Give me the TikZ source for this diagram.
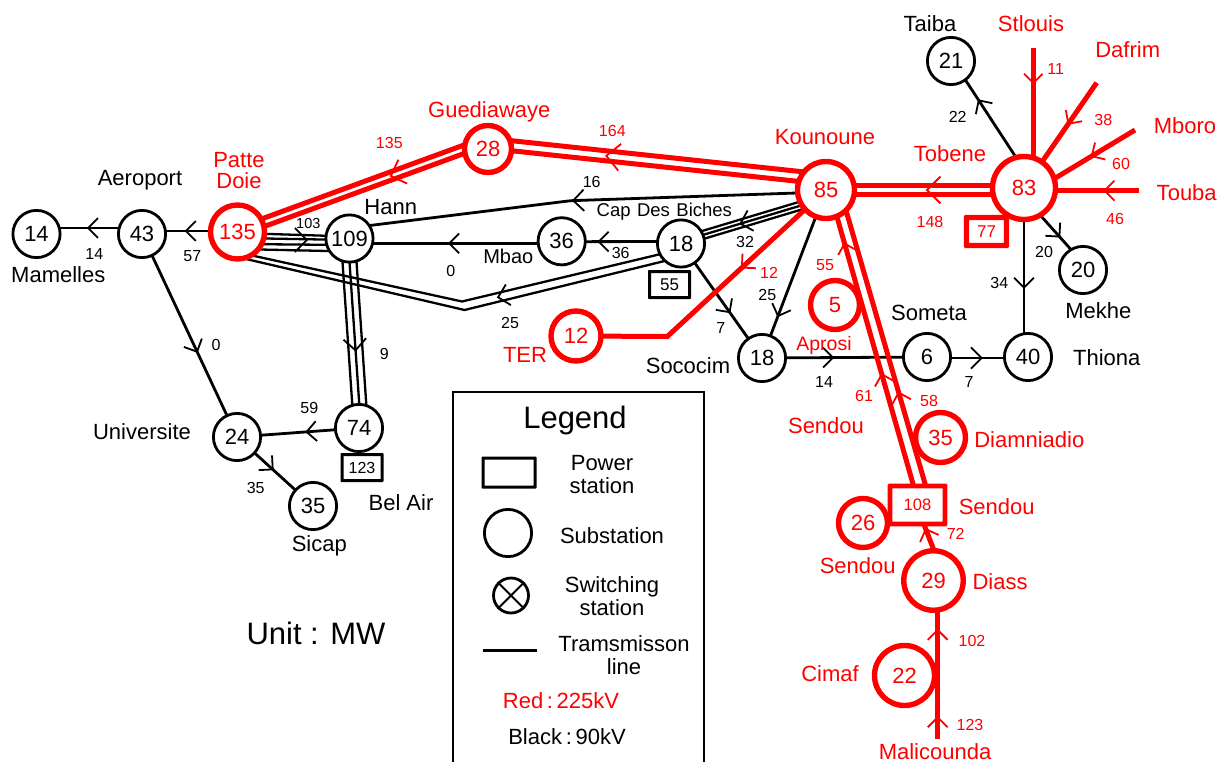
\documentclass[tikz,border=0pt]{standalone}
\usepackage{fontspec}
\setmainfont{Liberation Sans}
\usetikzlibrary{calc,decorations.markings}
\pgfdeclarelayer{bg}
\pgfsetlayers{bg,main}
\newcommand{\fs}[1]{\fontsize{#1}{#1}\selectfont}
% flow arrow: [barb length]{colour}{position}{path}
\newcommand{\flow}[4][14]{\path[decoration={markings,mark=at position #3 with {\draw[#2,line width=1.8pt] (135:#1pt)--(0,0)--(-135:#1pt);}},postaction={decorate}] #4;}
% parallel line: {style}{a}{b}{offset}
\newcommand{\pll}[4]{\draw[#1] ($(#2)!#4pt!90:(#3)$) -- ($(#3)!#4pt!-90:(#2)$);}
\tikzset{
 sub/.style={circle,draw=black,fill=white,line width=2.8pt,minimum size=47.2pt,inner sep=0pt,font=\fs{22}},
 rsub/.style={circle,draw=red,fill=white,text=red,line width=5.4pt,minimum size=#1,inner sep=0pt,font=\fs{22}},
 pbox/.style={rectangle,rounded corners=.01pt,draw=black,fill=white,line width=3pt,minimum width=40pt,minimum height=26pt,inner sep=0pt,font=\fs{17}},
 rbox/.style={rectangle,rounded corners=.01pt,draw=red,fill=white,text=red,line width=4.8pt,inner sep=0pt,font=\fs{17}},
 nm/.style={font=\fs{22},inner sep=0pt,align=center},
 rnm/.style={nm,text=red},
 val/.style={font=\fs{16},inner sep=0pt},
 rval/.style={val,text=red},
 bl/.style={draw=black,line width=2.8pt},
 bt/.style={draw=black,line width=2.3pt},
 rl/.style={draw=red,line width=5pt},
}
\begin{document}
\begin{tikzpicture}[x=1pt,y=-1pt]
\useasboundingbox (0,0) rectangle (1220,762);
% nodes
\node[sub] (n14) at (36.5,234) {14};
\node[sub] (n43) at (142,234) {43};
\node[rsub=54pt] (n135) at (237.5,232) {135};
\node[sub] (n109) at (349.5,238.5) {109};
\node[rsub=47pt] (n28) at (488,149) {28};
\node[rsub=57pt] (n85) at (826,190) {85};
\node[rsub=63pt] (n83) at (1024,188) {83};
\node[sub] (n21) at (951,61) {21};
\node[sub] (n20) at (1083,270) {20};
\node[sub] (n36) at (561.7,241.3) {36};
\node[sub] (n18c) at (681,243.5) {18};
\node[sub] (n18s) at (762,358) {18};
\node[rsub=50pt] (n12) at (576,336) {12};
\node[rsub=49pt] (n5) at (835,305) {5};
\node[sub] (n6) at (927,357) {6};
\node[sub] (n40) at (1028,357) {40};
\node[rsub=50pt] (n35r) at (940.5,437.5) {35};
\node[rsub=49pt] (n26) at (863,523) {26};
\node[rsub=59.5pt] (n29) at (933.5,580.5) {29};
\node[rsub=60pt] (n22) at (904.5,675.5) {22};
\node[sub] (n24) at (237,437) {24};
\node[sub] (n74) at (359,428) {74};
\node[sub] (n35) at (313,506) {35};
\node[rbox,minimum width=55pt,minimum height=38pt] (nS) at (917.5,505) {\fs{16.5}108};
\node[pbox] (p123) at (362,467.5) {\fs{16}123};
\node[pbox] (p55) at (669.5,284.5) {55};
\node[rbox,line width=5.4pt,minimum width=40pt,minimum height=28pt] (p77) at (986.5,231.5) {77};
% free ends and bends
\coordinate (stl) at (1033.3,48);
\coordinate (daf) at (1096.7,82.7);
\coordinate (mbo) at (1135,130);
\coordinate (tou) at (1139,190.7);
\coordinate (mal) at (937.7,739);
\coordinate (b16) at (570.7,200.7);
\coordinate (bu) at (462,301.5);
\coordinate (bl) at (464.5,310);
\coordinate (bm) at (463.2,305.7);
\coordinate (bter) at (667.3,336.5);
\begin{pgfonlayer}{bg}
% black lines
\draw[bl] ($(n14)+(0,-6)$) -- ($(n43)+(0,-6)$);
\flow[14]{black}{.51}{($(n43)+(0,-6)$)--($(n14)+(0,-6)$)}
\draw[bl] ($(n135)+(0,-1)$) -- ($(n43)+(0,-3)$);
\flow[14]{black}{.54}{($(n135)+(0,-1)$)--($(n43)+(0,-3)$)}
\draw[bl] (n43.center) -- (n24.center);
\flow[14]{black}{.58}{(n43.center)--(n24.center)}
% 135 - 109 quadruple
\draw[bt] ($(n135)+(0,1)$) -- ($(n109)+(0,-2)$);
\draw[bt] ($(n135)+(0,6)$) -- ($(n109)+(0,1.5)$);
\draw[bt] ($(n135)+(0,12)$) -- ($(n109)+(0,6.5)$);
\draw[bt] ($(n135)+(0,17)$) -- ($(n109)+(0,13)$);
\flow[17]{black}{.62}{($(n135)+(0,8)$)--($(n109)+(0,1.5)$)}
% 85 - 109 via bend
\draw[bl] ($(n85)+(0,2)$) -- (b16) -- ($(n109)+(0,-10.5)$);
\flow[15]{black}{.99}{($(n85)+(0,2)$)--(b16)}
% 18c - 36 - 109
\draw[bl] ($(n36)+(0,2)$) -- ($(n109)+(0,4.8)$);
\flow[14]{black}{.53}{($(n36)+(0,2)$)--($(n109)+(0,4.8)$)}
\draw[bl] ($(n18c)+(0,-2)$) -- ($(n36)+(0,.4)$);
\flow[14]{black}{.69}{($(n18c)+(0,-2)$)--($(n36)+(0,.4)$)}
% 135 - 18c double with bend
\draw[bt] ($(n135)+(0,20.3)$) -- (bu) -- ($(n18c)+(0,5.7)$);
\draw[bt] ($(n135)+(0,25)$) -- (bl) -- ($(n18c)+(0,13.5)$);
\flow[15]{black}{.84}{($(n18c)+(0,9.6)$)--(bm)}
% 85 - 18c triple
\coordinate (t1) at ($(n85)+(0,8)$);
\coordinate (t2) at ($(n18c)+(0,-2)$);
\pll{bt}{t1}{t2}{0}
\pll{bt}{t1}{t2}{4}
\pll{bt}{t1}{t2}{-4}
\flow[15]{black}{.59}{(t1)--(t2)}
% 109 - 74 triple
\coordinate (v1) at ($(n109)+(-1.6,0)$);
\coordinate (v2) at ($(n74)+(1.9,0)$);
\pll{bt}{v1}{v2}{0}
\pll{bt}{v1}{v2}{7}
\pll{bt}{v1}{v2}{-7}
\flow[16]{black}{.59}{(v1)--(v2)}
\draw[bl] (n74.center) -- (n24.center);
\flow[14]{black}{.43}{(n74.center)--(n24.center)}
\draw[bl] (n24.center) -- (n35.center);
\flow[14]{black}{.47}{(n24.center)--(n35.center)}
% Sococim
\draw[bl] (n85.center) -- (n18s.center);
\flow[14]{black}{.75}{(n85.center)--(n18s.center)}
\draw[bl] (n18c.center) -- (n18s.center);
\flow[14]{black}{.60}{(n18c.center)--(n18s.center)}
\draw[bl] (n18s.center) -- (n6.center);
\flow[14]{black}{.43}{(n18s.center)--(n6.center)}
\draw[bl] ($(n6)+(0,1)$) -- ($(n40)+(0,1)$);
\flow[15]{black}{.54}{($(n6)+(0,1)$)--($(n40)+(0,1)$)}
% 83 branches, black
\coordinate (ta1) at ($(n83)+(12,0)$);
\coordinate (ta2) at ($(n21)+(2,0)$);
\draw[bl] (ta1) -- (ta2);
\flow[14]{black}{.69}{(ta1)--(ta2)}
\coordinate (me1) at ($(n83)+(0,9)$);
\coordinate (me2) at ($(n20)+(0,-7)$);
\draw[bl] (me1) -- (me2);
\flow[14]{black}{.6}{(me1)--(me2)}
\draw[bl] (n83.center) -- (n83.center|-n40.center);
\flow[14]{black}{.59}{(n83.center)--(n83.center|-n40.center)}
% red lines
\coordinate (g1) at ($(n28)+(0,-8.5)$);
\pll{rl}{n135}{g1}{4}
\pll{rl}{n135}{g1}{-4}
\flow[18]{red}{.388}{(g1)--(n135.center)}
\coordinate (k1) at ($(n28)+(0,-5.8)$);
\coordinate (k2) at ($(n85)+(0,-10.7)$);
\pll{rl}{k1}{k2}{5}
\pll{rl}{k1}{k2}{-5}
\flow[19]{red}{.65}{(k2)--(k1)}
\coordinate (h1) at ($(n83)+(0,2)$);
\pll{rl}{n85}{h1}{4.7}
\pll{rl}{n85}{h1}{-4.7}
\flow[19]{red}{.49}{(h1)--(n85.center)}
\draw[rl] (stl) -- (stl|-n83.center);
\flow[13]{red}{.25}{(stl)--(stl|-n83.center)}
\draw[rl] (daf) -- (n83.center);
\flow[14]{red}{.39}{(daf)--(n83.center)}
\coordinate (mb1) at ($(n83)+(0,9)$);
\draw[rl] (mbo) -- (mb1);
\flow[14]{red}{.39}{(mbo)--(mb1)}
\draw[rl] (tou) -- (tou-|n83.center);
\flow[14]{red}{.30}{(tou)--(tou-|n83.center)}
\draw[rl] (n12.center) -- (bter) -- (n85.center);
\flow[14]{red}{.53}{(n85.center)--(bter)}
% 85 - Sendou double
\coordinate (l1) at ($(n85)+(3.3,0)$);
\coordinate (l2) at ($(nS)+(1.5,0)$);
\coordinate (r1) at ($(n85)+(14.1,0)$);
\coordinate (r2) at ($(nS)+(13.7,0)$);
\draw[rl] (l1) -- (l2);
\draw[rl] (r1) -- (r2);
\flow[13]{red}{.83}{(l2)--(l1)}
\flow[14]{red}{.415}{(l2)--(l1)}
\flow[14]{red}{.357}{(r2)--(r1)}
% Diass
\coordinate (d1) at ($(n29)+(12,0)$);
\coordinate (d2) at ($(nS)+(-1,0)$);
\draw[rl] (d1) -- (d2);
\flow[14]{red}{.68}{(d1)--(d2)}
\draw[rl] (mal) -- (mal|-n29.center);
\flow[14]{red}{.688}{(mal)--(mal|-n29.center)}
\flow[14]{red}{.137}{(mal)--(mal|-n29.center)}
\end{pgfonlayer}
% place names
\node[nm] (lMam) at (58.3,275) {Mamelles};
\node[nm] (lAer) at (140,180) {Aeroport};
\node[rnm] (lPat) at (239,170.5) {Patte\\[-1pt]Doie};
\node[nm] (lHan) at (390.7,207.3) {Hann};
\node[rnm] (lGue) at (489.3,112) {Guediawaye};
\node[rnm] (lKou) at (825,137) {Kounoune};
\node[rnm] (lTob) at (950,154) {Tobene};
\node[nm] (lTai) at (930,23.3) {Taiba};
\node[rnm] (lStl) at (1031,23.5) {Stlouis};
\node[rnm] (lDaf) at (1127.7,50) {Dafrim};
\node[rnm] (lMbo) at (1185,126) {Mboro};
\node[rnm] (lTou) at (1186.7,192.7) {Touba};
\node[nm] (lMek) at (1098.3,310.7) {Mekhe};
\node[nm] (lThi) at (1106.7,357.7) {Thiona};
\node[nm] (lSom) at (929,313) {Someta};
\node[nm] (lSoc) at (688,366) {Sococim};
\node[rnm,font=\fs{19.5}] (lApr) at (824,345) {Aprosi};
\node[nm,font=\fs{18.5}] (lCap) at (664.3,211.7) {Cap\hspace{.35em}Des\hspace{.35em}Biches};
\node[nm,font=\fs{20}] (lMba) at (508.3,256.7) {Mbao};
\node[rnm] (lTER) at (525,355) {TER};
\node[rnm] (lSe1) at (826,425.7) {Sendou};
\node[rnm] (lDia) at (1029.3,439.3) {Diamniadio};
\node[rnm] (lSe2) at (996.7,506.7) {Sendou};
\node[rnm] (lSe3) at (857.7,566) {Sendou};
\node[rnm] (lDis) at (1000,581.7) {Diass};
\node[rnm] (lCim) at (830,673.3) {Cimaf};
\node[rnm] (lMal) at (935,751.7) {Malicounda};
\node[nm] (lUni) at (142,432) {Universite};
\node[nm] (lBel) at (401,502.7) {Bel Air};
\node[nm] (lSic) at (319.3,546) {Sicap};
\node[nm,font=\fs{31}] (lUnit) at (316,633) {Unit : MW};
% flow values
\node[val] (v01) at (94.3,254.3) {14};
\node[val] (v02) at (192.3,255.7) {57};
\node[val] (v03) at (216,345) {0};
\node[val,font=\fs{14.5}] (v04) at (308.3,224) {103};
\node[rval] (v05) at (389.3,143.3) {135};
\node[rval] (v06) at (612.3,130.7) {164};
\node[val] (v07) at (591.7,182.3) {16};
\node[val] (v08) at (450.7,270.7) {0};
\node[val] (v09) at (620.7,253.3) {36};
\node[val] (v10) at (510,323.3) {25};
\node[val] (v11) at (745,241.7) {32};
\node[rval] (v12) at (769,273.3) {12};
\node[val] (v13) at (767.3,295) {25};
\node[val] (v14) at (720.7,328.3) {7};
\node[rval] (v15) at (825,265) {55};
\node[val] (v16) at (824,382.3) {14};
\node[val] (v17) at (969,382) {7};
\node[rval] (v18) at (864,395.7) {61};
\node[rval] (v19) at (929,400.7) {58};
\node[rval] (v20) at (955.7,534) {72};
\node[rval] (v21) at (972,641) {102};
\node[rval] (v22) at (970,725) {123};
\node[rval] (v23) at (930,221.7) {148};
\node[rval] (v24) at (1115,219.3) {46};
\node[rval] (v25) at (1121,164) {60};
\node[rval] (v26) at (1103.3,120) {38};
\node[rval] (v27) at (1055.7,69.3) {11};
\node[val] (v28) at (957.7,117.3) {22};
\node[val] (v29) at (1044,252.3) {20};
\node[val] (v30) at (999.3,283.3) {34};
\node[val] (v31) at (384.3,354) {9};
\node[val] (v32) at (309.3,408.3) {59};
\node[val] (v33) at (255.7,488.3) {35};
% legend
\draw[line width=1.5pt] (453,762) -- (453,392) -- (704,392) -- (704,762);
\node[nm,font=\fs{31}] (lLeg) at (575,420.5) {Legend};
\node[pbox,minimum width=52pt,minimum height=29pt] (kPow) at (509,472.5) {};
\node[sub] (kSub) at (508,533) {};
\node[sub,minimum size=35pt] (kSw) at (511,595.5) {};
\draw[line width=2pt] (kSw.45) -- (kSw.225) (kSw.135) -- (kSw.315);
\coordinate (kL1) at (483,650);
\coordinate (kL2) at (537,650);
\draw[line width=3pt] (kL1) -- (kL2);
\node[nm] (tPow) at (602,475) {Power\\[1pt]station};
\node[nm] (tSub) at (612,536) {Substation};
\node[nm] (tSwi) at (612,596.5) {Switching\\[1pt]station};
\node[nm] (tTra) at (624,655) {Tramsmisson\\[1pt]line};
\node[nm,text=red] (tRed) at (561,701) {Red\,:\,225kV};
\node[nm] (tBla) at (567,737) {Black\,:\,90kV};
\end{tikzpicture}
\end{document}
